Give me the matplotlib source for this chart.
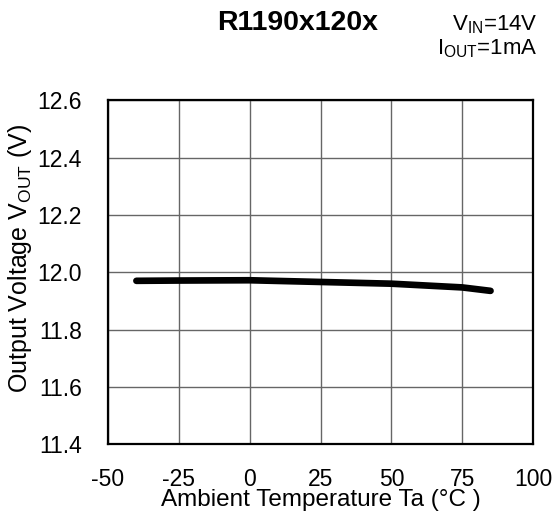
import matplotlib.pyplot as plt

plt.rcParams['font.family'] = ['Liberation Sans', 'DejaVu Sans']
plt.rcParams['mathtext.fontset'] = 'custom'
plt.rcParams['mathtext.rm'] = 'Liberation Sans'

# data
temp = [-40, -25, 0, 25, 50, 75, 85]
vout = [11.970, 11.971, 11.972, 11.966, 11.960, 11.947, 11.935]
xticks = [-50, -25, 0, 25, 50, 75, 100]
yticks = [11.4, 11.6, 11.8, 12.0, 12.2, 12.4, 12.6]

fig = plt.figure(figsize=(5.57, 5.22), dpi=100)
ax = fig.add_axes([0.194, 0.149, 0.763, 0.659])

ax.plot(temp, vout, color='black', lw=4.8, solid_capstyle='round')

ax.set_xlim(-50, 100)
ax.set_ylim(11.4, 12.6)
ax.set_xticks(xticks)
ax.set_yticks(yticks)
ax.set_yticklabels(['%.1f' % v for v in yticks])
ax.set_xticklabels([str(v) for v in xticks])
ax.tick_params(length=0, labelsize=16.5)
ax.tick_params(axis='y', pad=19)
ax.tick_params(axis='x', pad=17)
ax.grid(True, color='#666666', lw=1)
for s in ax.spines.values():
    s.set_linewidth(1.6)

ax.set_xlabel('Ambient Temperature Ta (°C )', fontsize=17.5, labelpad=-1)
ax.set_ylabel('Output Voltage V$_{\\mathrm{OUT}}$ (V)', fontsize=18)
ax.yaxis.set_label_coords(-0.175, 0.541)

fig.text(0.535, 0.956, 'R1190x120x', fontsize=20.5, fontweight='bold', ha='center', va='center')
fig.text(0.966, 0.952, 'V$_{\\mathrm{IN}}$=14V', fontsize=16, ha='right', va='center')
fig.text(0.966, 0.907, 'I$_{\\mathrm{OUT}}$=1mA', fontsize=16, ha='right', va='center')

fig.savefig('out.png', dpi=100)
